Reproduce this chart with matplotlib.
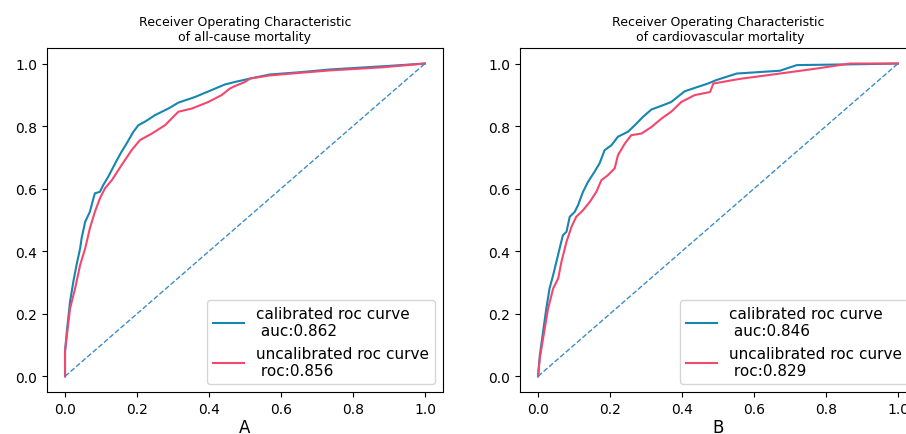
import matplotlib
matplotlib.use("Agg")
import matplotlib.pyplot as plt

# all-cause mortality (panel A)
a_cal_fpr = [0.0, 0.0, 0.005, 0.014, 0.023, 0.032, 0.042, 0.046, 0.056, 0.069, 0.079, 0.083, 0.097,
             0.106, 0.120, 0.144, 0.157, 0.171, 0.190, 0.204, 0.222, 0.250, 0.287, 0.315, 0.361,
             0.407, 0.444, 0.472, 0.495, 0.514, 0.569, 0.650, 0.736, 0.894, 1.0]
a_cal_tpr = [0.0, 0.080, 0.143, 0.239, 0.302, 0.356, 0.409, 0.441, 0.494, 0.526, 0.569, 0.585, 0.590,
             0.611, 0.638, 0.691, 0.718, 0.744, 0.782, 0.803, 0.814, 0.835, 0.856, 0.875, 0.893,
             0.915, 0.933, 0.941, 0.947, 0.952, 0.965, 0.972, 0.981, 0.992, 1.0]
a_unc_fpr = [0.0, 0.0, 0.014, 0.028, 0.042, 0.056, 0.069, 0.083, 0.097, 0.111, 0.130, 0.157, 0.185,
             0.208, 0.241, 0.278, 0.315, 0.352, 0.398, 0.435, 0.458, 0.472, 0.500, 0.514, 0.569,
             0.650, 0.736, 0.883, 1.0]
a_unc_tpr = [0.0, 0.080, 0.217, 0.281, 0.356, 0.409, 0.473, 0.526, 0.569, 0.601, 0.627, 0.675, 0.723,
             0.755, 0.776, 0.803, 0.846, 0.856, 0.877, 0.899, 0.920, 0.928, 0.941, 0.952, 0.962,
             0.970, 0.978, 0.988, 1.0]

# cardiovascular mortality (panel B)
b_cal_fpr = [0.0, 0.005, 0.014, 0.023, 0.032, 0.042, 0.051, 0.060, 0.069, 0.079, 0.088, 0.102, 0.111,
             0.125, 0.139, 0.157, 0.171, 0.185, 0.204, 0.222, 0.250, 0.269, 0.292, 0.315, 0.343,
             0.370, 0.407, 0.435, 0.472, 0.495, 0.552, 0.672, 0.719, 0.904, 1.0]
b_cal_tpr = [0.0, 0.068, 0.143, 0.217, 0.281, 0.324, 0.366, 0.409, 0.451, 0.462, 0.510, 0.526, 0.547,
             0.590, 0.622, 0.654, 0.681, 0.723, 0.739, 0.766, 0.782, 0.803, 0.830, 0.853, 0.865,
             0.877, 0.911, 0.922, 0.936, 0.947, 0.968, 0.977, 0.995, 0.998, 1.0]
b_unc_fpr = [0.0, 0.005, 0.014, 0.028, 0.042, 0.056, 0.065, 0.079, 0.093, 0.106, 0.125, 0.144, 0.162,
             0.176, 0.194, 0.213, 0.222, 0.241, 0.259, 0.287, 0.315, 0.343, 0.370, 0.398, 0.435,
             0.478, 0.487, 0.561, 0.672, 0.774, 0.867, 1.0]
b_unc_tpr = [0.0, 0.058, 0.121, 0.217, 0.281, 0.313, 0.366, 0.430, 0.478, 0.510, 0.531, 0.558, 0.590,
             0.627, 0.643, 0.665, 0.707, 0.744, 0.771, 0.776, 0.797, 0.824, 0.846, 0.877, 0.899,
             0.909, 0.936, 0.951, 0.968, 0.984, 1.0, 1.0]

titles = ["Receiver Operating Characteristic\nof all-cause mortality",
          "Receiver Operating Characteristic\n of cardiovascular mortality"]
panel_labels = ["A", "B"]
auc_cal = [0.862, 0.846]
auc_unc = [0.856, 0.829]

blue = "#1686b0"
pink = "#f2476f"
diag = "#3b8dc6"

fig = plt.figure(figsize=(9.06, 4.35), dpi=100)
ax1 = fig.add_axes([0.0519, 0.0966, 0.437, 0.791])
ax2 = fig.add_axes([0.574, 0.0966, 0.437, 0.791])

curves = [(a_cal_fpr, a_cal_tpr, a_unc_fpr, a_unc_tpr),
          (b_cal_fpr, b_cal_tpr, b_unc_fpr, b_unc_tpr)]

for i, ax in enumerate([ax1, ax2]):
    cf, ct, uf, ut = curves[i]
    ax.plot(cf, ct, color=blue, lw=1.5,
            label="calibrated roc curve\n auc:%.3f" % auc_cal[i])
    ax.plot(uf, ut, color=pink, lw=1.5,
            label="uncalibrated roc curve\n roc:%.3f" % auc_unc[i])
    ax.plot([0, 1], [0, 1], color=diag, lw=1, ls="--")
    ax.set_title(titles[i], fontsize=9)
    ax.set_xlabel(panel_labels[i], fontsize=12, labelpad=2)
    ax.legend(loc="lower right", fontsize=11)

fig.savefig("out.png", dpi=100)
